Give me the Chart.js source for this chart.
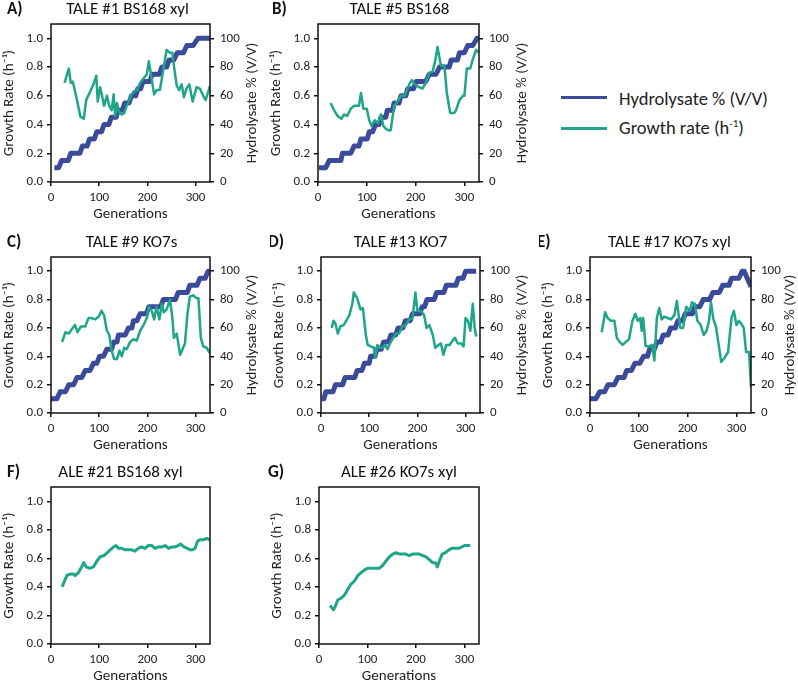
<!DOCTYPE html>
<html><head><meta charset="utf-8">
<script src="https://cdn.jsdelivr.net/npm/chart.js@4.4.0/dist/chart.umd.min.js"></script>
<style>
body{margin:0;background:#fff;}
#wrap{position:relative;width:798px;height:685px;overflow:hidden;background:#fff;font-family:Carlito,Lato,sans-serif;color:#222;}
canvas{position:absolute;}
.lline{position:absolute;left:561px;width:46px;height:3px;}
.ltxt{position:absolute;left:619px;font-size:18.5px;line-height:22px;white-space:nowrap;}
.ltxt sup{font-size:11px;line-height:0;vertical-align:7px;}
</style></head><body><div id="wrap">
<div class="lline" style="top:96px;background:#3C4A9A"></div>
<div class="ltxt" style="top:88px">Hydrolysate % (V/V)</div>
<div class="lline" style="top:127px;background:#1FA58A"></div>
<div class="ltxt" style="top:117px">Growth rate (h<sup>-1</sup>)</div>
</div>
<script>
// ---------- DATA ----------
const hydLevels = [10,10,15,15,20,20,25,25,30,30,35,35,40,40,45,45,50,50,55,55,60,60,65,65,70,70,75,75,80,80,85,85,90,90,95,95,100,100];
const hydLevelsE = [10,10,15,15,20,20,25,25,30,30,35,35,40,40,45,45,50,50,55,55,60,60,65,65,70,70,75,75,80,80,85,85,90,90,95,95,100,100,89];

const hydGenA = [7,16,22,36,41,60,65,75,80,90,95,105,110,120,125,135,140,148,153,162,167,176,180,186,191,205,210,225,230,240,245,255,262,275,282,295,305,330];
const grGenA = [28,37,41,45,48,54,61,68,73,80,88,94,97,102,106,110,116,121,126,130,133,137,141,147,152,157,166,171,179,185,192,199,203,207,214,219,226,233,240,247,252,255,261,266,271,276,281,287,294,302,309,316,321,330];
const grA = [0.69,0.79,0.69,0.70,0.66,0.57,0.455,0.44,0.57,0.62,0.68,0.74,0.56,0.66,0.60,0.53,0.60,0.53,0.50,0.61,0.46,0.55,0.49,0.47,0.48,0.53,0.60,0.63,0.64,0.69,0.72,0.75,0.84,0.76,0.61,0.64,0.64,0.78,0.92,0.90,0.90,0.81,0.67,0.64,0.68,0.59,0.65,0.68,0.56,0.66,0.65,0.60,0.57,0.67];

const hydGenB = [2,16,23,47,50,67,74,84,88,101,105,112,118,125,129,139,142,153,156,166,170,180,184,196,201,221,228,242,249,269,273,286,290,300,307,317,326,329];
const grGenB = [26,33,40,48,53,60,67,74,84,88,93,100,105,110,116,123,129,134,139,144,149,156,163,170,178,187,192,198,207,214,221,228,235,240,245,252,259,264,271,279,283,290,297,300,305,312,317,324,329];
const grB = [0.55,0.50,0.46,0.44,0.47,0.46,0.51,0.53,0.53,0.62,0.51,0.51,0.43,0.39,0.43,0.41,0.47,0.39,0.37,0.36,0.36,0.53,0.56,0.60,0.60,0.68,0.71,0.68,0.66,0.65,0.69,0.76,0.77,0.84,0.94,0.81,0.81,0.62,0.48,0.48,0.50,0.57,0.60,0.60,0.79,0.79,0.85,0.92,0.90];

const hydGenC = [0,12,19,30,37,47,54,64,71,81,88,95,101,109,116,126,130,137,140,154,161,168,171,178,185,198,203,228,233,258,264,283,288,303,309,320,326,330];
const grGenC = [23,30,37,43,50,55,62,71,78,83,92,99,105,110,116,121,126,131,137,142,147,152,157,164,171,178,185,192,199,203,209,214,219,225,230,234,240,247,252,255,261,268,273,278,283,288,295,302,306,311,316,323,330];
const grC = [0.50,0.57,0.56,0.59,0.62,0.57,0.61,0.61,0.67,0.67,0.66,0.68,0.72,0.69,0.58,0.55,0.44,0.38,0.38,0.44,0.40,0.46,0.45,0.50,0.52,0.51,0.58,0.62,0.67,0.75,0.72,0.66,0.75,0.66,0.77,0.71,0.73,0.80,0.67,0.53,0.56,0.41,0.45,0.49,0.69,0.82,0.83,0.81,0.81,0.53,0.47,0.46,0.42];

const hydGenD = [2,6,10,25,30,45,50,70,75,85,90,100,103,112,116,125,130,140,145,155,160,170,175,185,190,205,210,215,220,235,240,255,260,280,285,295,300,322];
const grGenD = [22,26,30,35,40,47,54,59,65,68,75,82,87,93,97,103,110,113,117,122,127,133,138,143,150,155,162,169,176,183,190,196,200,207,214,219,225,232,237,244,249,254,260,267,273,278,284,291,296,300,305,310,315,319,322];
const grD = [0.60,0.65,0.63,0.56,0.61,0.62,0.66,0.69,0.77,0.85,0.81,0.73,0.74,0.55,0.48,0.47,0.46,0.39,0.48,0.46,0.46,0.48,0.45,0.49,0.53,0.56,0.56,0.61,0.62,0.66,0.67,0.85,0.72,0.72,0.69,0.60,0.62,0.55,0.46,0.48,0.49,0.41,0.48,0.48,0.51,0.53,0.49,0.49,0.47,0.67,0.65,0.58,0.77,0.60,0.54];

const hydGenE = [0,12,20,30,37,50,57,70,75,85,92,102,110,118,122,132,137,145,150,160,165,175,180,190,195,210,215,225,232,245,252,265,272,285,290,305,312,316,330];
const grGenE = [24,31,36,43,50,55,61,67,73,80,87,93,98,103,106,109,114,121,127,132,137,142,147,152,159,166,173,178,185,191,197,204,209,215,220,227,233,239,244,248,253,258,263,269,276,283,290,295,300,305,310,315,320,326,330];
const grE = [0.57,0.71,0.67,0.65,0.65,0.53,0.50,0.48,0.50,0.52,0.65,0.70,0.65,0.67,0.58,0.67,0.47,0.47,0.48,0.37,0.67,0.74,0.66,0.68,0.67,0.66,0.69,0.79,0.60,0.60,0.75,0.72,0.78,0.77,0.65,0.62,0.55,0.58,0.65,0.78,0.66,0.61,0.50,0.36,0.39,0.43,0.67,0.72,0.62,0.65,0.63,0.60,0.43,0.43,0.18];

const grGenF = [23,28,33,40,46,50,57,62,68,73,80,88,95,102,110,117,123,130,135,140,147,154,161,168,174,181,188,195,202,209,216,223,230,237,244,251,257,264,269,276,283,288,294,299,304,309,316,323,330];
const grF = [0.40,0.44,0.48,0.49,0.49,0.48,0.50,0.53,0.57,0.54,0.53,0.54,0.58,0.61,0.62,0.64,0.66,0.68,0.69,0.67,0.67,0.66,0.66,0.66,0.65,0.67,0.68,0.67,0.69,0.69,0.67,0.68,0.68,0.69,0.67,0.68,0.68,0.69,0.70,0.68,0.67,0.66,0.66,0.67,0.72,0.73,0.73,0.74,0.73];

const grGenG = [23,30,33,39,45,52,59,66,73,80,87,94,100,109,117,124,131,138,145,152,159,166,172,179,186,193,200,207,214,221,228,234,240,244,248,254,261,268,274,281,288,295,300,305,312];
const grG = [0.27,0.24,0.26,0.31,0.32,0.34,0.38,0.42,0.44,0.48,0.50,0.52,0.53,0.53,0.53,0.53,0.55,0.58,0.61,0.63,0.64,0.63,0.63,0.63,0.62,0.63,0.63,0.63,0.62,0.61,0.59,0.57,0.57,0.54,0.58,0.63,0.64,0.66,0.67,0.67,0.67,0.68,0.69,0.69,0.69];

const xTicksMax = 330, grTickStep = 0.2, hydTickStep = 20, genTickStep = 100;

// ---------- STYLE / LAYOUT ----------
const FONT = "Carlito, Lato, sans-serif";
const BLUE = '#3C4A9A', GREEN = '#1FA58A', INK = '#222';
Chart.defaults.font.family = FONT;
Chart.defaults.color = INK;

const panels = [
  {letter:'A)', title:'TALE #1 BS168 xyl', L:51, T:24, W:159, H:158, hx:hydGenA, hy:hydLevels, gx:grGenA, gy:grA, ldx:-44, tdx:-3, rdx:42},
  {letter:'B)', title:'TALE #5 BS168', L:318, T:24, W:161, H:158, hx:hydGenB, hy:hydLevels, gx:grGenB, gy:grB, ldx:-46, tdx:1, rdx:43},
  {letter:'C)', title:'TALE #9 KO7s', L:51, T:257, W:159, H:156, hx:hydGenC, hy:hydLevels, gx:grGenC, gy:grC, ldx:-44, tdx:1, rdx:42},
  {letter:'D)', title:'TALE #13 KO7', L:321, T:257, W:159, H:156, hx:hydGenD, hy:hydLevels, gx:grGenD, gy:grD, ldx:-53, tdx:0, rdx:42},
  {letter:'E)', title:'TALE #17 KO7s xyl', L:590, T:257, W:161, H:156, hx:hydGenE, hy:hydLevelsE, gx:grGenE, gy:grE, ldx:-53, tdx:-1, rdx:39},
  {letter:'F)', title:'ALE #21 BS168 xyl', L:51, T:487, W:159, H:157, gx:grGenF, gy:grF, ldx:-44, tdx:-10},
  {letter:'G)', title:'ALE #26 KO7s xyl', L:319, T:487, W:160, H:157, gx:grGenG, gy:grG, ldx:-51, tdx:0},
];

const zip = (xs, ys) => xs.map((x, i) => ({x, y: ys[i]}));

const framePlugin = {
  id: 'frame',
  afterDraw(chart, args, opts) {
    const {ctx, chartArea: a} = chart;
    ctx.save();
    ctx.strokeStyle = '#111';
    ctx.lineWidth = 1.5;
    ctx.strokeRect(a.left, a.top, a.right - a.left, a.bottom - a.top);
    ctx.fillStyle = '#111';
    ctx.textBaseline = 'middle';
    ctx.font = 'bold 17px ' + FONT;
    ctx.textAlign = 'left';
    ctx.fillText(opts.letter, a.left + opts.ldx, a.top - 14);
    ctx.font = '17px ' + FONT;
    ctx.textAlign = 'center';
    ctx.fillText(opts.title, (a.left + a.right) / 2 + opts.tdx, a.top - 14);
    if (opts.rightTitle) {
      ctx.fillStyle = INK;
      ctx.font = '15px ' + FONT;
      ctx.translate(a.right + opts.rdx, (a.top + a.bottom) / 2);
      ctx.rotate(-Math.PI / 2);
      ctx.fillText(opts.rightTitle, 0, 0);
    }
    ctx.restore();
  }
};

const wrap = document.getElementById('wrap');
const tickGrid = {display: true, drawOnChartArea: false, drawTicks: true, tickLength: 4, color: '#111', lineWidth: 1.5};

panels.forEach(p => {
  const dual = !!p.hx;
  const cw = 51 + p.W + (dual ? 50 : 12);
  const chh = 24 + p.H + 41;
  const c = document.createElement('canvas');
  c.width = cw; c.height = chh;
  c.style.left = (p.L - 51) + 'px';
  c.style.top = (p.T - 24) + 'px';
  wrap.appendChild(c);

  const datasets = [{
    data: zip(p.gx, p.gy), borderColor: GREEN, borderWidth: dual ? 2.5 : 3,
    pointRadius: 0, tension: 0, yAxisID: 'y', borderJoinStyle: 'round'
  }];
  if (dual) datasets.push({
    data: zip(p.hx, p.hy), borderColor: BLUE, borderWidth: 5,
    pointRadius: 0, tension: 0, yAxisID: 'y1', borderJoinStyle: 'round'
  });

  const scales = {
    x: {
      type: 'linear', min: 0, max: xTicksMax,
      ticks: {stepSize: genTickStep, includeBounds: false, font: {size: 13}, padding: 4, maxRotation: 0},
      grid: tickGrid, border: {display: false},
      title: {display: true, text: 'Generations', font: {size: 15}, padding: 0},
      afterFit: s => { s.height = 41; }
    },
    y: {
      position: 'left', min: 0, max: 1.1,
      ticks: {stepSize: grTickStep, includeBounds: false, font: {size: 13}, padding: 4, callback: v => v.toFixed(1)},
      grid: tickGrid, border: {display: false},
      title: {display: true, text: 'Growth Rate (h⁻¹)', font: {size: 15}, padding: 0},
      afterFit: s => { s.width = 51; }
    }
  };
  if (dual) scales.y1 = {
    position: 'right', min: 0, max: 110,
    ticks: {stepSize: hydTickStep, includeBounds: false, font: {size: 13}, padding: 6},
    grid: tickGrid, border: {display: false},
    title: {display: false},
    afterFit: s => { s.width = 50; }
  };

  new Chart(c, {
    type: 'line',
    data: {datasets},
    options: {
      responsive: false, animation: false, devicePixelRatio: 1,
      layout: {padding: {top: 24, left: 0, right: dual ? 0 : 12, bottom: 0}},
      plugins: {legend: {display: false}, tooltip: {enabled: false},
        frame: {letter: p.letter, title: p.title, ldx: p.ldx, tdx: p.tdx, rdx: p.rdx,
                rightTitle: dual ? 'Hydrolysate % (V/V)' : null}},
      scales
    },
    plugins: [framePlugin]
  });
});
</script>
</body></html>
